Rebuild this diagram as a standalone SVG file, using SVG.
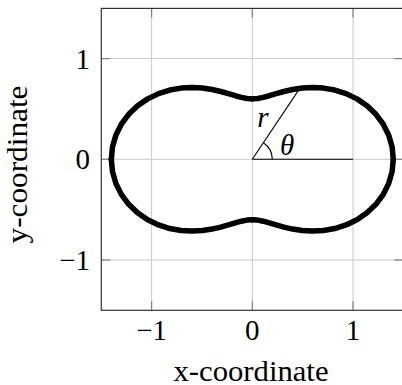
<svg xmlns="http://www.w3.org/2000/svg" xmlns:xlink="http://www.w3.org/1999/xlink" width="402" height="385" viewBox="0 0 402 385">
  <style>
    .grid { stroke: #c8c8c8; stroke-width: 1; fill: none; }
    .tick { stroke: #808080; stroke-width: 1.2; fill: none; }
    .box { stroke: #333333; stroke-width: 1.2; fill: none; }
    .thin { stroke: #000000; stroke-width: 1.1; fill: none; }
    .curve { stroke: #000000; stroke-width: 5.5; fill: none; stroke-linejoin: round; stroke-linecap: round; }
    text { font-family: 'Liberation Serif', 'DejaVu Serif', 'Times New Roman', serif; font-size: 29px; fill: #000000; }
    .math { font-style: italic; }
  </style>
  <defs>
    <path id="quarter" class="curve" d="M140.98,0 L139.83,-12.23 L136.45,-24.06 L130.96,-35.09 L123.62,-44.99 L114.73,-53.50 L104.65,-60.42 L93.78,-65.67 L82.49,-69.23 L71.21,-71.21 L60.23,-71.78 L49.86,-71.21 L40.28,-69.77 L31.61,-67.80 L23.89,-65.64 L17.04,-63.57 L10.92,-61.89 L5.32,-60.80 L0,-60.42"/>
  </defs>
  <rect width="402" height="385" fill="#ffffff"/>
  <g id="grid">
    <line class="grid" x1="151.6" y1="8.4" x2="151.6" y2="310.3"/>
    <line class="grid" x1="252.3" y1="8.4" x2="252.3" y2="310.3"/>
    <line class="grid" x1="353" y1="8.4" x2="353" y2="310.3"/>
    <line class="grid" x1="101.3" y1="58.6" x2="403.3" y2="58.6"/>
    <line class="grid" x1="101.3" y1="159.3" x2="403.3" y2="159.3"/>
    <line class="grid" x1="101.3" y1="260" x2="403.3" y2="260"/>
  </g>
  <g id="ticks">
    <line class="tick" x1="151.6" y1="310.3" x2="151.6" y2="301.3"/>
    <line class="tick" x1="252.3" y1="310.3" x2="252.3" y2="301.3"/>
    <line class="tick" x1="353" y1="310.3" x2="353" y2="301.3"/>
    <line class="tick" x1="151.6" y1="8.4" x2="151.6" y2="17.4"/>
    <line class="tick" x1="252.3" y1="8.4" x2="252.3" y2="17.4"/>
    <line class="tick" x1="353" y1="8.4" x2="353" y2="17.4"/>
    <line class="tick" x1="101.3" y1="58.6" x2="110.3" y2="58.6"/>
    <line class="tick" x1="101.3" y1="159.3" x2="110.3" y2="159.3"/>
    <line class="tick" x1="101.3" y1="260" x2="110.3" y2="260"/>
    <line class="tick" x1="403.3" y1="58.6" x2="394.3" y2="58.6"/>
    <line class="tick" x1="403.3" y1="159.3" x2="394.3" y2="159.3"/>
    <line class="tick" x1="403.3" y1="260" x2="394.3" y2="260"/>
  </g>
  <rect id="axis-box" class="box" x="101.3" y="8.4" width="302" height="301.9"/>
  <g id="annotation">
    <line class="thin" x1="252.3" y1="159.3" x2="353" y2="159.3"/>
    <line class="thin" x1="252.3" y1="159.3" x2="299.8" y2="88.4"/>
    <path class="thin" d="M272.3,159.3 A20,20 0 0 0 263.4,142.7"/>
    <text class="math" x="263" y="127" text-anchor="middle">r</text>
    <text class="math" x="287" y="155" text-anchor="middle">θ</text>
  </g>
  <g id="curve" transform="translate(252.3,159.3)">
    <use xlink:href="#quarter"/>
    <use xlink:href="#quarter" transform="scale(-1,1)"/>
    <use xlink:href="#quarter" transform="scale(1,-1)"/>
    <use xlink:href="#quarter" transform="scale(-1,-1)"/>
  </g>
  <g id="tick-labels">
    <text x="151.6" y="340" text-anchor="middle">−1</text>
    <text x="252.3" y="340" text-anchor="middle">0</text>
    <text x="353" y="340" text-anchor="middle">1</text>
    <text x="90" y="68.5" text-anchor="end">1</text>
    <text x="90" y="169.2" text-anchor="end">0</text>
    <text x="90" y="269.9" text-anchor="end">−1</text>
  </g>
  <g id="axis-labels">
    <text x="251" y="380.5" text-anchor="middle" textLength="155" lengthAdjust="spacingAndGlyphs">x-coordinate</text>
    <text transform="translate(26.7,164.5) rotate(-90)" x="0" y="0" text-anchor="middle" textLength="158" lengthAdjust="spacingAndGlyphs">y-coordinate</text>
  </g>
</svg>
